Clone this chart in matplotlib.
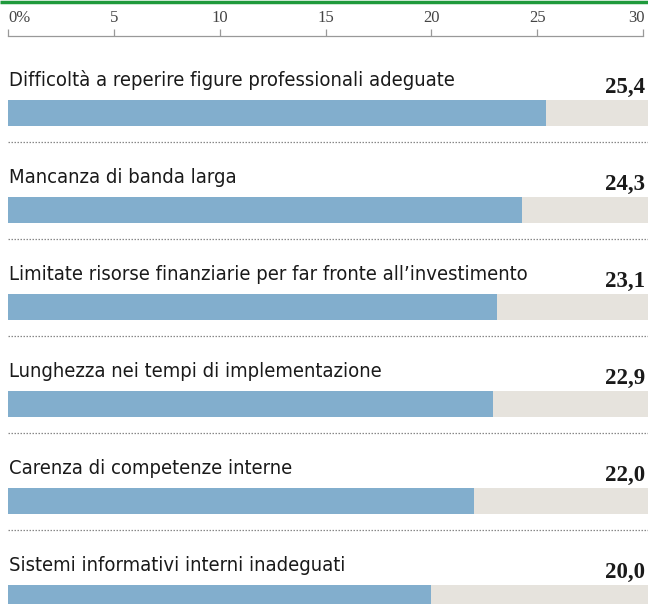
import matplotlib.pyplot as plt

labels = [
    "Difficoltà a reperire figure professionali adeguate",
    "Mancanza di banda larga",
    "Limitate risorse finanziarie per far fronte all\u2019investimento",
    "Lunghezza nei tempi di implementazione",
    "Carenza di competenze interne",
    "Sistemi informativi interni inadeguati",
]
values = [25.4, 24.3, 23.1, 22.9, 22.0, 20.0]
ticks = [0, 5, 10, 15, 20, 25, 30]
tick_labels = ["0%", "5", "10", "15", "20", "25", "30"]

W, H = 648, 604
fig = plt.figure(figsize=(W / 100, H / 100), dpi=100)
ax = fig.add_axes([0, 0, 1, 1])
ax.axis("off")

# x in data units, y in pixels from the top
px = 30 / 635
x0 = -8 * px
x1 = 30 + 5 * px
ax.set_xlim(x0, x1)
ax.set_ylim(H, 0)

bar_col = "#82aecd"
bg_col = "#e6e3dd"

# top green rule
ax.plot([x0, x1], [2, 2], color="#1f9a3c", lw=2.5, solid_capstyle="butt")

# scale
ax.plot([0, 30], [35.5, 35.5], color="#999999", lw=0.9)
ax.vlines(ticks, 29, 35.5, color="#999999", lw=0.9)
for t, tl in zip(ticks, tick_labels):
    ha = "left" if t == 0 else ("right" if t == 30 else "center")
    xt = t if t == 0 else (t + 0.1 if t == 30 else t)
    ax.text(xt, 22.5, tl, ha=ha, va="baseline", fontsize=12,
            family="Liberation Serif", color="#444444")

pitch = 97
for i, (lab, v) in enumerate(zip(labels, values)):
    top = 100 + i * pitch
    ax.barh(top + 13, x1, height=26, left=0, color=bg_col, lw=0)
    ax.barh(top + 13, v, height=26, left=0, color=bar_col, lw=0)
    ax.text(0.05, top - 14, lab, ha="left", va="baseline", fontsize=14.5,
            family="DejaVu Sans", stretch="condensed", color="#1a1a1a")
    ax.text(x1 - 0.12, top - 7, f"{v:.1f}".replace(".", ","), ha="right",
            va="baseline", fontsize=16.5, fontweight="bold",
            family="Liberation Serif", color="#1a1a1a")
    if i < len(labels) - 1:
        ax.plot([0, x1], [top + 42, top + 42], color="#888888", lw=0.9,
                ls=(0, (1.2, 1.2)))

fig.savefig("out.png", dpi=100)
